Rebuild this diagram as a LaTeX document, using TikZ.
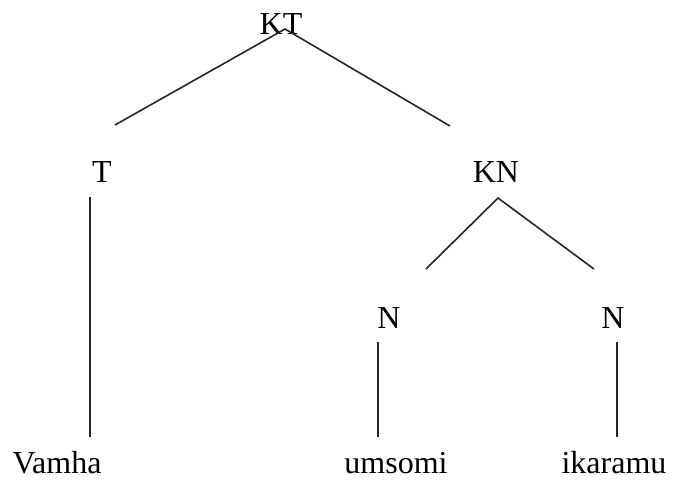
\documentclass[tikz,border=0pt]{standalone}
\usepackage{fontspec}
\setmainfont{Liberation Serif}
\begin{document}
\begin{tikzpicture}[x=0.75pt,y=-0.75pt,
  lbl/.style={anchor=base,inner sep=0pt,font=\fontsize{24}{29}\selectfont},
  edge/.style={draw=black!85,line width=1.2pt}]
\useasboundingbox (0,0) rectangle (676,483);
% labels
\node[lbl] (KT) at (281,34) {KT};
\node[lbl] (T) at (102,182) {T};
\node[lbl] (KN) at (496,182) {KN};
\node[lbl] (N1) at (389,328) {N};
\node[lbl] (N2) at (613,328) {N};
\node[lbl] (Vamha) at (57,473) {Vamha};
\node[lbl] (umsomi) at (396,473) {umsomi};
\node[lbl] (ikaramu) at (614,473) {ikaramu};
% line ends
\coordinate (ktA) at (285,29);
\coordinate (ktL) at (115,125);
\coordinate (ktR) at (450,126);
\coordinate (tTop) at (90,197);
\coordinate (tBot) at (90,437);
\coordinate (knA) at (498,198);
\coordinate (knL) at (426,269);
\coordinate (knR) at (594,269);
\coordinate (n1Top) at (378,342);
\coordinate (n1Bot) at (378,437);
\coordinate (n2Top) at (617,342);
\coordinate (n2Bot) at (617,437);
% connectors
\draw[edge] (ktL) -- (ktA) -- (ktR);
\draw[edge] (tTop) -- (tBot);
\draw[edge] (knL) -- (knA) -- (knR);
\draw[edge] (n1Top) -- (n1Bot);
\draw[edge] (n2Top) -- (n2Bot);
\end{tikzpicture}
\end{document}
